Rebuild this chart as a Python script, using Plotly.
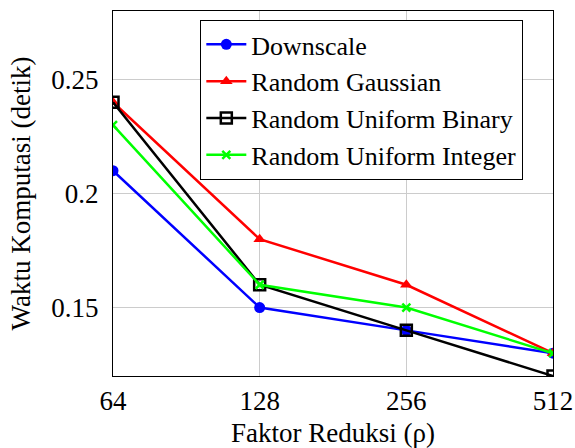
import plotly.graph_objects as go

x_vals = [64, 128, 256, 512]
downscale = [0.21, 0.15, 0.14, 0.13]
gaussian = [0.24, 0.18, 0.16, 0.13]
binary = [0.24, 0.16, 0.14, 0.12]
integer = [0.23, 0.16, 0.15, 0.13]

series = [
    ("Downscale", downscale, "#0000ff", dict(symbol="circle", size=11, color="#0000ff")),
    ("Random Gaussian", gaussian, "#ff0000", dict(symbol="triangle-up", size=11, color="#ff0000")),
    ("Random Uniform Binary", binary, "#000000", dict(symbol="square-open", size=11, color="#000000", line=dict(width=2.5))),
    ("Random Uniform Integer", integer, "#00ff00", dict(symbol="x-thin-open", size=8, color="#00ff00", line=dict(width=2.5, color="#00ff00"))),
]

fig = go.Figure()
for name, vals, col, mk in series:
    fig.add_trace(go.Scatter(x=x_vals, y=vals, mode="lines+markers", name=name,
                             line=dict(color=col, width=2.5), marker=mk))

font = "Liberation Serif, Times New Roman, Times, serif"
fig.update_layout(
    width=575, height=448,
    margin=dict(l=113, r=22, t=11, b=72, autoexpand=False),
    paper_bgcolor="white", plot_bgcolor="white",
    font=dict(family=font, size=27, color="black"),
    showlegend=True,
    legend=dict(x=0.198, y=0.976, xanchor="left", yanchor="top",
                bordercolor="black", borderwidth=1.2, bgcolor="white",
                font=dict(family=font, size=26, color="black"), itemwidth=40, tracegroupgap=0),
    xaxis=dict(type="log", range=[6 * 0.30103, 9 * 0.30103], automargin=False,
               tickvals=x_vals, ticktext=[str(v) for v in x_vals],
               tickfont=dict(family=font, size=27, color="black"),
               showgrid=True, gridcolor="#cccccc", gridwidth=1,
               showline=True, linecolor="black", linewidth=1.2, mirror=True,
               ticks="", zeroline=False,
               title=dict(text="Faktor Reduksi (ρ)", standoff=8, font=dict(family=font, size=27, color="black"))),
    yaxis=dict(range=[0.12, 0.28], tickvals=[0.15, 0.2, 0.25], ticktext=["0.15", "0.2", "0.25"],
               automargin=False, tickfont=dict(family=font, size=27, color="black"),
               ticklabelstandoff=8,
               showgrid=True, gridcolor="#cccccc", gridwidth=1,
               showline=True, linecolor="black", linewidth=1.2, mirror=True,
               ticks="", zeroline=False,
               title=dict(text="Waktu Komputasi (detik)", standoff=12, font=dict(family=font, size=27, color="black"))),
)

fig.write_html("out.html")
